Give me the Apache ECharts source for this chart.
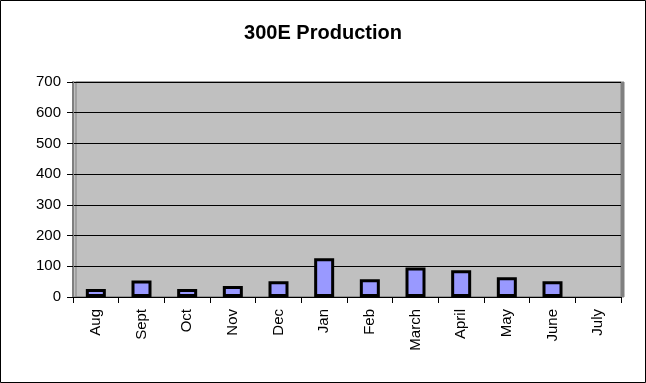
<!DOCTYPE html>
<html>
<head>
<meta charset="utf-8">
<script src="https://cdn.jsdelivr.net/npm/echarts@6/dist/echarts.min.js"></script>
<style>
html,body{margin:0;padding:0;background:#fff;}
#chart{width:646px;height:383px;}
</style>
</head>
<body>
<div id="chart"></div>
<script>
const categories = ['Aug','Sept','Oct','Nov','Dec','Jan','Feb','March','April','May','June','July'];
const production = [26, 54, 26, 36, 51, 126, 58, 96, 87, 64, 51, null];
const yTicks = { min: 0, max: 700, interval: 100 };

const chart = echarts.init(document.getElementById('chart'), null, {renderer: 'canvas'});
const font = 'Arial, "Liberation Sans", sans-serif';
chart.setOption({
  animation: false,
  backgroundColor: '#ffffff',
  title: {
    text: '300E Production',
    left: 'center',
    top: 18,
    textStyle: {fontFamily: font, fontSize: 20, fontWeight: 'bold', color: '#000'}
  },
  graphic: [{
    type: 'rect',
    shape: {x: 0.5, y: 0.5, width: 645, height: 382},
    style: {fill: 'none', stroke: '#000', lineWidth: 1},
    silent: true,
    z: 100
  }],
  grid: {
    left: 73, right: 25, top: 82, bottom: 86,
    show: true,
    backgroundColor: '#C0C0C0',
    borderColor: '#808080',
    borderWidth: 1,
    shadowColor: '#808080',
    shadowOffsetX: 3,
    shadowOffsetY: 0,
    shadowBlur: 0
  },
  xAxis: {
    type: 'category',
    data: categories,
    axisLine: {show: true, lineStyle: {color: '#000', width: 1}},
    axisTick: {show: true, alignWithLabel: false, length: 6, lineStyle: {color: '#000'}},
    axisLabel: {rotate: 90, margin: 12, fontFamily: font, fontSize: 15, color: '#000', interval: 0}
  },
  yAxis: {
    type: 'value',
    min: yTicks.min, max: yTicks.max, interval: yTicks.interval,
    axisLine: {show: true, lineStyle: {color: '#808080', width: 2}},
    axisTick: {show: true, length: 6, lineStyle: {color: '#000'}},
    axisLabel: {margin: 12, fontFamily: font, fontSize: 15, color: '#000'},
    splitLine: {show: true, lineStyle: {color: '#000', width: 1}}
  },
  series: [{
    type: 'bar',
    data: production,
    barWidth: 20,
    itemStyle: {color: '#9999FF', borderColor: '#000', borderWidth: 3}
  }]
});
</script>
</body>
</html>
